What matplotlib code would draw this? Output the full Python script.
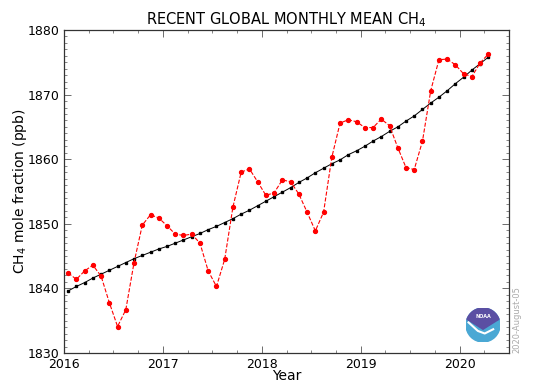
import matplotlib.pyplot as plt
import matplotlib.patches as mpatches
from matplotlib.ticker import MultipleLocator
import numpy as np

# monthly values Jan 2016 .. Apr 2020
anos = [2016, 2017, 2018, 2019, 2020]
media_mensal = [1842.4, 1841.4, 1842.7, 1843.6, 1841.9, 1837.8, 1834.1, 1836.7, 1844.0, 1849.8, 1851.4, 1850.9,
                1849.7, 1848.4, 1848.2, 1848.4, 1847.0, 1842.7, 1840.3, 1844.5, 1852.6, 1858.0, 1858.5, 1856.5,
                1854.4, 1854.8, 1856.8, 1856.5, 1854.6, 1851.8, 1848.9, 1851.8, 1860.3, 1865.6, 1866.1, 1865.8,
                1864.9, 1864.9, 1866.2, 1865.2, 1861.8, 1858.7, 1858.4, 1862.8, 1870.6, 1875.4, 1875.5, 1874.6,
                1873.2, 1872.8, 1874.9, 1876.3]
tendencia = [1839.6, 1840.3, 1840.9, 1841.6, 1842.2, 1842.8, 1843.4, 1844.0, 1844.6, 1845.1, 1845.6, 1846.1,
             1846.5, 1847.0, 1847.5, 1848.0, 1848.5, 1849.1, 1849.6, 1850.2, 1850.8, 1851.5, 1852.1, 1852.8,
             1853.5, 1854.2, 1854.9, 1855.6, 1856.4, 1857.1, 1857.9, 1858.6, 1859.3, 1859.9, 1860.7, 1861.3,
             1862.0, 1862.8, 1863.5, 1864.3, 1865.0, 1865.9, 1866.7, 1867.7, 1868.7, 1869.6, 1870.6, 1871.7,
             1872.7, 1873.8, 1874.8, 1875.8]
datas = 2016 + (np.arange(len(media_mensal)) + 0.5) / 12

fig = plt.figure(figsize=(5.35, 3.86), dpi=100)
ax = fig.add_axes([64/535, 1 - 353/386, 445/535, 323/386])

ax.plot(datas, media_mensal, color='red', ls='--', lw=0.8, marker='o', ms=2.8, zorder=3)
ax.plot(datas, tendencia, color='black', ls='-', lw=0.7, marker='s', ms=1.9, zorder=2)

ax.set_xlim(2016, 2020.5)
ax.set_ylim(1830, 1880)
ax.set_xticks(anos)
ax.xaxis.set_minor_locator(MultipleLocator(0.25))
ax.yaxis.set_major_locator(MultipleLocator(10))
ax.yaxis.set_minor_locator(MultipleLocator(1))
ax.tick_params(which='both', direction='in', top=True, right=True, labelsize=9)
ax.tick_params(which='major', length=5, width=0.6, color='#555555')
ax.tick_params(which='minor', length=2.5, width=0.5, color='#555555')
for s in ax.spines.values():
    s.set_linewidth(0.9)
    s.set_color('#333333')

ax.set_title('RECENT GLOBAL MONTHLY MEAN CH$_4$', fontsize=10.5, pad=4)
ax.set_xlabel('Year', fontsize=10, labelpad=-1)
ax.set_ylabel('CH$_4$ mole fraction (ppb)', fontsize=10, labelpad=-1)

fig.text(517/535, 1 - 320/386, '2020-August-05', rotation=90, fontsize=6, color='#aaaaaa',
         ha='center', va='center')

# NOAA logo
lx, ly, r = 483/535, 1 - 325/386, 17
la = fig.add_axes([lx - r/535, ly - r/386, 2*r/535, 2*r/386])
la.set_xlim(-1, 1)
la.set_ylim(-1, 1)
la.axis('off')
la.add_patch(mpatches.Circle((0, 0), 1, color='#4aa8d4'))
la.add_patch(mpatches.Wedge((0, 0), 1, 20, 160, color='#5b4fa3'))
la.add_patch(mpatches.Polygon([[-0.94, 0.34], [0.0, -0.25], [0.94, 0.34], [0.0, 0.2]], color='#5b4fa3'))
la.plot([-0.85, -0.3, 0.1, 0.6], [0.15, -0.35, -0.5, -0.25], color='white', lw=1.5)
la.text(0, 0.48, 'NOAA', color='white', fontsize=3.5, ha='center', va='center', weight='bold')

fig.savefig('out.png', dpi=100)
